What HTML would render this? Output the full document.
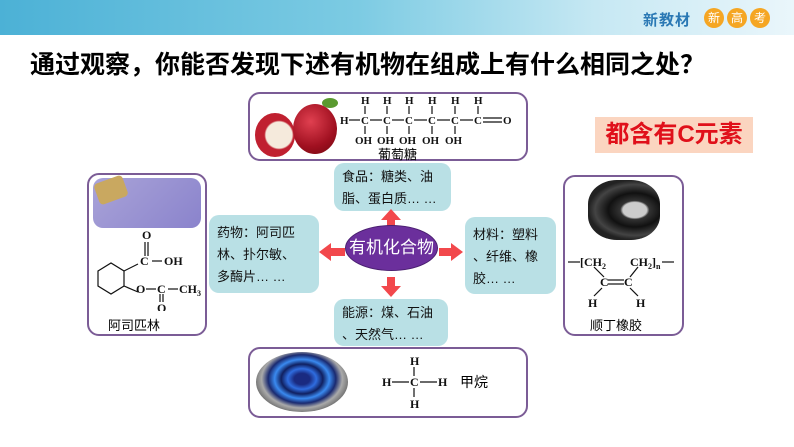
<!DOCTYPE html>
<html><head><meta charset="utf-8"><style>
*{margin:0;padding:0;box-sizing:border-box}
body{width:794px;height:447px;position:relative;background:#fff;overflow:hidden;font-family:"Liberation Sans","Noto Sans CJK SC",sans-serif}
.a{position:absolute}
.box{position:absolute;border:2px solid #7b5c96;border-radius:12px;background:#fff}
.lb{position:absolute;background:#b9e0e5;border-radius:10px;font-size:13px;line-height:22px;color:#111;padding:6px 8px}
</style></head><body>
<div class="a" style="left:0;top:0;width:794px;height:35px;background:linear-gradient(90deg,#4cb1d6 0%,#7ccbe3 45%,#c6e8f3 75%,#eaf6fb 100%)"></div>
<div class="a" style="left:643px;top:9px;font-size:15px;font-weight:bold;color:#2a78b4;letter-spacing:1px">新教材</div>
<div class="a" style="left:704px;top:8px;width:20px;height:20px;border-radius:50%;background:#f5a623;color:#fff;font-size:12px;text-align:center;line-height:20px">新</div>
<div class="a" style="left:727px;top:8px;width:20px;height:20px;border-radius:50%;background:#f5a623;color:#fff;font-size:12px;text-align:center;line-height:20px">高</div>
<div class="a" style="left:750px;top:8px;width:20px;height:20px;border-radius:50%;background:#f5a623;color:#fff;font-size:12px;text-align:center;line-height:20px">考</div>
<div class="a" style="left:30px;top:45px;font-size:25px;color:#000;font-weight:bold;white-space:nowrap">通过观察，你能否发现下述有机物在组成上有什么相同之处？</div>

<!-- glucose -->
<div class="box" style="left:248px;top:92px;width:280px;height:69px"></div>
<div class="a" style="left:255px;top:113px;width:40px;height:44px;border-radius:50%;background:radial-gradient(circle at 60% 50%,#f5eadc 40%,#c02030 45%)"></div>
<div class="a" style="left:293px;top:104px;width:44px;height:50px;border-radius:50%;background:radial-gradient(circle at 40% 35%,#e04050,#a01020 60%,#700810)"></div>
<div class="a" style="left:322px;top:98px;width:16px;height:10px;border-radius:50%;background:#5a9a30"></div>
<svg class="a" style="left:340px;top:92px" width="190" height="60">
<g font-family="Liberation Serif" font-weight="bold" font-size="11" fill="#111">
<text x="0" y="32">H</text>
<text x="21" y="32">C</text><text x="43" y="32">C</text><text x="65" y="32">C</text><text x="88" y="32">C</text><text x="111" y="32">C</text><text x="134" y="32">C</text><text x="163" y="32">O</text>
<text x="21" y="12">H</text><text x="43" y="12">H</text><text x="65" y="12">H</text><text x="88" y="12">H</text><text x="111" y="12">H</text><text x="134" y="12">H</text>
<text x="15" y="52">OH</text><text x="37" y="52">OH</text><text x="59" y="52">OH</text><text x="82" y="52">OH</text><text x="105" y="52">OH</text>
</g>
<g stroke="#111" stroke-width="1.2">
<line x1="9" y1="28" x2="20" y2="28"/><line x1="30" y1="28" x2="42" y2="28"/><line x1="52" y1="28" x2="64" y2="28"/><line x1="74" y1="28" x2="87" y2="28"/><line x1="97" y1="28" x2="110" y2="28"/><line x1="120" y1="28" x2="133" y2="28"/>
<line x1="143" y1="26" x2="162" y2="26"/><line x1="143" y1="30" x2="162" y2="30"/>
<line x1="25" y1="14" x2="25" y2="22"/><line x1="25" y1="34" x2="25" y2="42"/>
<line x1="47" y1="14" x2="47" y2="22"/><line x1="47" y1="34" x2="47" y2="42"/>
<line x1="69" y1="14" x2="69" y2="22"/><line x1="69" y1="34" x2="69" y2="42"/>
<line x1="92" y1="14" x2="92" y2="22"/><line x1="92" y1="34" x2="92" y2="42"/>
<line x1="115" y1="14" x2="115" y2="22"/><line x1="115" y1="34" x2="115" y2="42"/>
<line x1="138" y1="14" x2="138" y2="22"/>
</g></svg>
<div class="a" style="left:378px;top:144px;font-size:13px">葡萄糖</div>

<div class="a" style="left:595px;top:117px;width:158px;height:36px;background:#fbd5c0;color:#e0101a;font-size:24px;font-weight:bold;text-align:center;line-height:36px">都含有C元素</div>

<!-- aspirin -->
<div class="box" style="left:87px;top:173px;width:120px;height:163px"></div>
<div class="a" style="left:93px;top:178px;width:108px;height:50px;border-radius:10px;background:linear-gradient(135deg,#a9a3d8,#8a83cc)"></div>
<div class="a" style="left:96px;top:179px;width:30px;height:22px;background:#c9a860;border-radius:4px;transform:rotate(-20deg)"></div>
<svg class="a" style="left:88px;top:226px" width="120" height="85">
<g stroke="#111" stroke-width="1.2" fill="none">
<polygon points="10,45 23,37 36,45 36,60 23,68 10,60"/>
<polyline points="36,45 50,38"/><polyline points="36,60 50,66"/>
<line x1="57" y1="16" x2="57" y2="30"/><line x1="60" y1="16" x2="60" y2="30"/>
<line x1="64" y1="35" x2="74" y2="35"/><line x1="58" y1="63" x2="68" y2="63"/><line x1="80" y1="63" x2="90" y2="63"/>
<line x1="72" y1="68" x2="72" y2="76"/><line x1="75" y1="68" x2="75" y2="76"/>
</g>
<g font-family="Liberation Serif" font-weight="bold" font-size="12" fill="#111">
<text x="54" y="13">O</text><text x="52" y="39">C</text><text x="76" y="39">OH</text>
<text x="48" y="67">O</text><text x="69" y="67">C</text><text x="91" y="67">CH<tspan font-size="8" dy="3">3</tspan></text><text x="69" y="86">O</text>
</g></svg>
<div class="a" style="left:108px;top:315px;font-size:13px">阿司匹林</div>

<!-- rubber -->
<div class="box" style="left:563px;top:175px;width:121px;height:161px"></div>
<div class="a" style="left:588px;top:180px;width:72px;height:60px;border-radius:40%;background:radial-gradient(ellipse at 65% 50%,#ccc 18%,#333 22%,#111 40%,#444 60%,#222 70%)"></div>
<svg class="a" style="left:564px;top:250px" width="120" height="60">
<g stroke="#111" stroke-width="1.2" fill="none">
<line x1="4" y1="12" x2="16" y2="12"/><line x1="98" y1="12" x2="110" y2="12"/>
<line x1="30" y1="17" x2="40" y2="27"/><line x1="74" y1="17" x2="66" y2="27"/>
<line x1="44" y1="30" x2="60" y2="30"/><line x1="44" y1="34" x2="60" y2="34"/>
<line x1="38" y1="38" x2="30" y2="46"/><line x1="66" y1="38" x2="74" y2="46"/>
</g>
<g font-family="Liberation Serif" font-weight="bold" font-size="12" fill="#111">
<text x="16" y="16">[CH<tspan font-size="8" dy="3">2</tspan></text>
<text x="66" y="16">CH<tspan font-size="8" dy="3">2</tspan><tspan dy="-3">]</tspan><tspan font-size="8" dy="3">n</tspan></text>
<text x="36" y="36">C</text><text x="60" y="36">C</text><text x="24" y="57">H</text><text x="72" y="57">H</text>
</g></svg>
<div class="a" style="left:590px;top:315px;font-size:13px">顺丁橡胶</div>

<!-- methane -->
<div class="box" style="left:248px;top:347px;width:280px;height:71px"></div>
<div class="a" style="left:256px;top:352px;width:92px;height:60px;border-radius:50%;background:radial-gradient(ellipse at 50% 45%,#1a2a80 12%,#2f6de0 22%,#102060 32%,#3a8af0 42%,#1a2a70 52%,#aaa 62%,#666 75%,#fff 76%)"></div>
<svg class="a" style="left:380px;top:355px" width="80" height="55">
<g stroke="#111" stroke-width="1.2"><line x1="12" y1="27" x2="29" y2="27"/><line x1="40" y1="27" x2="57" y2="27"/><line x1="34" y1="12" x2="34" y2="21"/><line x1="34" y1="33" x2="34" y2="42"/></g>
<g font-family="Liberation Serif" font-weight="bold" font-size="12" fill="#111">
<text x="30" y="10">H</text><text x="2" y="31">H</text><text x="30" y="31">C</text><text x="58" y="31">H</text><text x="30" y="53">H</text></g></svg>
<div class="a" style="left:460px;top:372px;font-size:14px">甲烷</div>

<!-- center -->
<div class="lb" style="left:334px;top:163px;width:117px;height:48px;padding-top:3px">食品：糖类、油<br>脂、蛋白质… …</div>
<div class="lb" style="left:209px;top:215px;width:110px;height:78px;padding-top:7px">药物：阿司匹<br>林、扑尔敏、<br>多酶片… …</div>
<div class="lb" style="left:465px;top:217px;width:91px;height:77px;padding-top:7px">材料：塑料<br>、纤维、橡<br>胶… …</div>
<div class="lb" style="left:334px;top:299px;width:114px;height:47px;padding-top:3px">能源：煤、石油<br>、天然气… …</div>
<svg class="a" style="left:315px;top:205px" width="155" height="100">
<g fill="#f2484c">
<polygon points="76,4 66,15 72,15 72,22 80,22 80,15 86,15"/>
<polygon points="76,92 66,81 72,81 72,72 80,72 80,81 86,81"/>
<polygon points="4,47 16,38 16,43 30,43 30,51 16,51 16,56"/>
<polygon points="148,47 136,38 136,43 124,43 124,51 136,51 136,56"/>
</g></svg>
<div class="a" style="left:345px;top:225px;width:93px;height:46px;border-radius:50%;background:#6b2f9c;border:1px solid #4a1f70;color:#fff;font-size:17px;text-align:center;line-height:44px">有机化合物</div>
</body></html>
